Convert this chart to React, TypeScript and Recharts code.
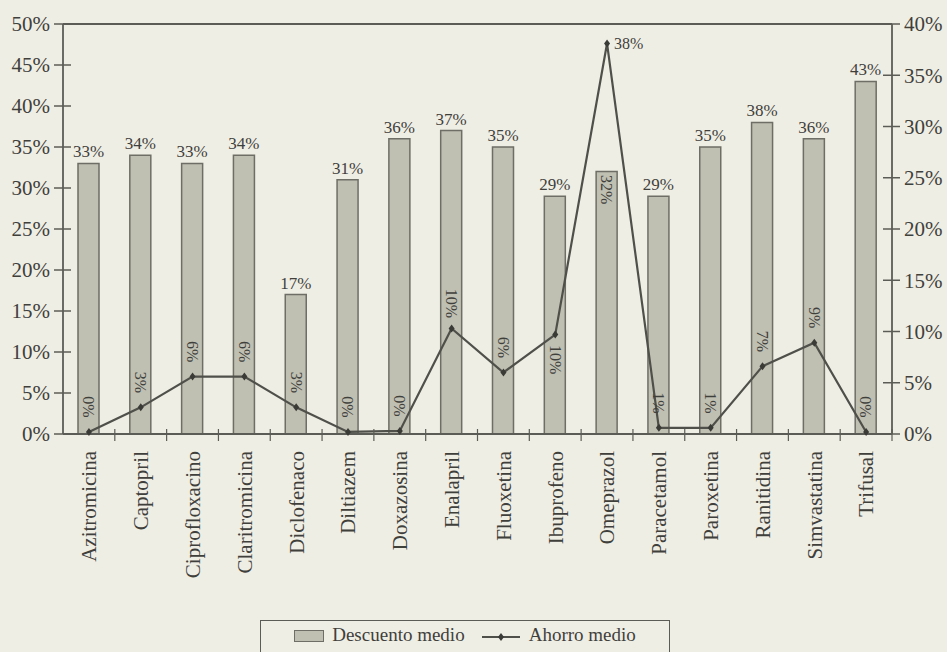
import React from 'react';
import { ComposedChart, Bar, Line, XAxis, YAxis, LabelList, ReferenceLine } from 'recharts';

const categories = [
  'Azitromicina', 'Captopril', 'Ciprofloxacino', 'Claritromicina', 'Diclofenaco',
  'Diltiazem', 'Doxazosina', 'Enalapril', 'Fluoxetina', 'Ibuprofeno', 'Omeprazol',
  'Paracetamol', 'Paroxetina', 'Ranitidina', 'Simvastatina', 'Trifusal',
];
const descuentoMedio = [33, 34, 33, 34, 17, 31, 36, 37, 35, 29, 32, 29, 35, 38, 36, 43];
const ahorroMedio = [0.2, 2.6, 5.6, 5.6, 2.6, 0.2, 0.3, 10.3, 6.0, 9.7, 38.1, 0.6, 0.6, 6.6, 8.9, 0.2];
const leftTicks = [0, 5, 10, 15, 20, 25, 30, 35, 40, 45, 50];
const rightTicks = [0, 5, 10, 15, 20, 25, 30, 35, 40];
const ahorroLabelBelow = ['Ibuprofeno'];
const ahorroLabelSide = ['Omeprazol'];
const descuentoLabelInside = ['Omeprazol'];

const data = categories.map((name, i) => ({ name, descuento: descuentoMedio[i], ahorro: ahorroMedio[i] }));

const FONT = '"Liberation Serif", "DejaVu Serif", serif';
const INK = '#3f3f3c';
const AXIS = '#5c5c57';
const BG = '#efeee4';
const BAR_FILL = '#bfbfb2';
const BAR_STROKE = '#6e6e66';

const LeftTick = (props: any) => {
  const { x, y, payload } = props;
  return (
    <g>
      <line x1={x - 9} x2={x + 8} y1={y} y2={y} stroke={AXIS} strokeWidth={1.5} />
      <text x={x - 13} y={y} dy="0.35em" textAnchor="end" fontFamily={FONT} fontSize={21} fill={INK}>
        {payload.value}%
      </text>
    </g>
  );
};

const RightTick = (props: any) => {
  const { x, y, payload } = props;
  return (
    <g>
      <line x1={x - 9} x2={x + 8} y1={y} y2={y} stroke={AXIS} strokeWidth={1.5} />
      <text x={x + 12} y={y} dy="0.35em" textAnchor="start" fontFamily={FONT} fontSize={21} fill={INK}>
        {payload.value}%
      </text>
    </g>
  );
};

const BottomTick = (props: any) => {
  const { x, y, payload, width } = props;
  const band = (width || 829) / categories.length;
  return (
    <g>
      <line x1={x + band / 2} x2={x + band / 2} y1={y - 5} y2={y + 7} stroke={AXIS} strokeWidth={1.2} />
      <text
        x={x}
        y={y + 17}
        dy="0.35em"
        textAnchor="end"
        transform={`rotate(-90, ${x}, ${y + 17})`}
        fontFamily={FONT}
        fontSize={21}
        fill={INK}
      >
        {payload.value}
      </text>
    </g>
  );
};

const BarLabel = (props: any) => {
  const { x, y, width, value, index } = props;
  const cx = x + width / 2;
  if (descuentoLabelInside.includes(categories[index])) {
    const cy = y + 18;
    return (
      <text x={cx} y={cy} dy="0.35em" textAnchor="middle" transform={`rotate(90, ${cx}, ${cy})`}
        fontFamily={FONT} fontSize={16} fill={INK}>
        {value}%
      </text>
    );
  }
  return (
    <text x={cx} y={y - 6} textAnchor="middle" fontFamily={FONT} fontSize={17} fill={INK}>
      {value}%
    </text>
  );
};

const LineLabel = (props: any) => {
  const { x, y, value, index } = props;
  const txt = `${Math.round(value)}%`;
  const name = categories[index];
  if (ahorroLabelSide.includes(name)) {
    return (
      <text x={x + 7} y={y} dy="0.35em" textAnchor="start" fontFamily={FONT} fontSize={16} fill={INK}>
        {txt}
      </text>
    );
  }
  const cy = ahorroLabelBelow.includes(name) ? y + 25 : y - 25;
  return (
    <text x={x} y={cy} dy="0.35em" textAnchor="middle" transform={`rotate(90, ${x}, ${cy})`}
      fontFamily={FONT} fontSize={16} fill={INK}>
      {txt}
    </text>
  );
};

const Diamond = (props: any) => {
  const { cx, cy } = props;
  if (cx == null || cy == null) return null;
  return <path d={`M${cx},${cy - 4} L${cx + 3},${cy} L${cx},${cy + 4} L${cx - 3},${cy} Z`} fill="#3a3a37" />;
};

export default function App() {
  return (
    <div style={{ position: 'absolute', left: 0, top: 0, width: 947, height: 652, background: BG, overflow: 'hidden' }}>
      <ComposedChart width={947} height={652} data={data} margin={{ top: 24, right: 0, bottom: 0, left: 0 }}>
        <XAxis
          dataKey="name"
          xAxisId="x"
          interval={0}
          height={218}
          tickSize={0}
          tickMargin={0}
          tickLine={false}
          tick={<BottomTick />}
          axisLine={{ stroke: AXIS, strokeWidth: 1.8 }}
        />
        <YAxis
          yAxisId="left"
          domain={[0, 50]}
          ticks={leftTicks}
          width={63}
          tickSize={0}
          tickMargin={0}
          tickLine={false}
          tick={<LeftTick />}
          axisLine={{ stroke: AXIS, strokeWidth: 1.8 }}
        />
        <YAxis
          yAxisId="right"
          orientation="right"
          domain={[0, 40]}
          ticks={rightTicks}
          width={55}
          tickSize={0}
          tickMargin={0}
          tickLine={false}
          tick={<RightTick />}
          axisLine={{ stroke: AXIS, strokeWidth: 1.8 }}
        />
        <ReferenceLine yAxisId="left" xAxisId="x" y={50} stroke={AXIS} strokeWidth={1.8} />
        <Bar
          xAxisId="x"
          yAxisId="left"
          dataKey="descuento"
          name="Descuento medio"
          barSize={21}
          fill={BAR_FILL}
          stroke={BAR_STROKE}
          strokeWidth={1.5}
          isAnimationActive={false}
        >
          <LabelList dataKey="descuento" content={<BarLabel />} />
        </Bar>
        <Line
          xAxisId="x"
          yAxisId="right"
          dataKey="ahorro"
          name="Ahorro medio"
          type="linear"
          stroke="#50504b"
          strokeWidth={2.2}
          dot={<Diamond />}
          activeDot={false}
          isAnimationActive={false}
        >
          <LabelList dataKey="ahorro" content={<LineLabel />} />
        </Line>
      </ComposedChart>
      <div
        style={{
          position: 'absolute', left: 260, top: 620, width: 410, height: 40,
          border: `1.5px solid ${AXIS}`, boxSizing: 'border-box',
          display: 'flex', alignItems: 'flex-start', paddingTop: 3, justifyContent: 'center',
          fontFamily: FONT, fontSize: 19, color: INK,
        }}
      >
        <span style={{ display: 'inline-block', width: 30, height: 12, background: BAR_FILL, border: `1.5px solid ${BAR_STROKE}`, marginTop: 6, marginRight: 8, boxSizing: 'border-box' }} />
        <span>Descuento medio</span>
        <svg width={40} height={20} style={{ marginLeft: 16, marginRight: 8, marginTop: 3 }}>
          <line x1={1} x2={39} y1={10} y2={10} stroke="#50504b" strokeWidth={2} />
          <path d="M20,6 L23,10 L20,14 L17,10 Z" fill="#3a3a37" />
        </svg>
        <span>Ahorro medio</span>
      </div>
    </div>
  );
}
